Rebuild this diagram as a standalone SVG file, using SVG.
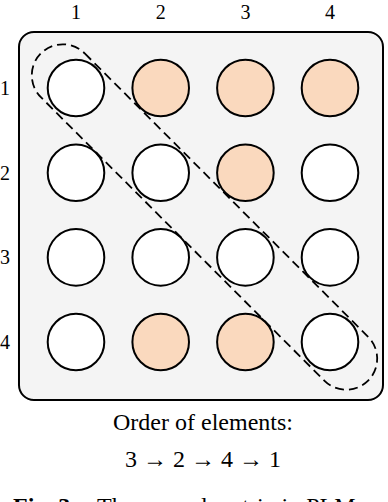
<svg xmlns="http://www.w3.org/2000/svg" width="388" height="502" viewBox="0 0 388 502">
<style>
.lbl{font-family:"Liberation Serif","Times New Roman",serif;font-size:20px;fill:#000;text-anchor:middle}
.cap{font-family:"Liberation Serif","Times New Roman",serif;font-size:24px;fill:#000;text-anchor:middle}
.w{fill:#fff;stroke:#000;stroke-width:2}
.o{fill:#fad9be;stroke:#000;stroke-width:2}
</style>
<rect x="0" y="0" width="388" height="502" fill="#fff"/>
<g id="panel">
<rect x="19" y="32" width="364" height="368" rx="15" ry="15" fill="#f4f4f4" stroke="#000" stroke-width="2"/>
</g>
<g id="col-labels">
<text class="lbl" x="76" y="19">1</text>
<text class="lbl" x="160.7" y="19">2</text>
<text class="lbl" x="245.4" y="19">3</text>
<text class="lbl" x="330" y="19">4</text>
</g>
<g id="row-labels">
<text class="lbl" x="5" y="95">1</text>
<text class="lbl" x="5" y="179.7">2</text>
<text class="lbl" x="5" y="264.4">3</text>
<text class="lbl" x="5" y="349">4</text>
</g>
<g id="cells">
<circle id="c11" class="w" cx="76" cy="88" r="28.3"/>
<circle id="c12" class="o" cx="160.7" cy="88" r="28.3"/>
<circle id="c13" class="o" cx="245.4" cy="88" r="28.3"/>
<circle id="c14" class="o" cx="330" cy="88" r="28.3"/>
<circle id="c21" class="w" cx="76" cy="172.7" r="28.3"/>
<circle id="c22" class="w" cx="160.7" cy="172.7" r="28.3"/>
<circle id="c23" class="o" cx="245.4" cy="172.7" r="28.3"/>
<circle id="c24" class="w" cx="330" cy="172.7" r="28.3"/>
<circle id="c31" class="w" cx="76" cy="257.4" r="28.3"/>
<circle id="c32" class="w" cx="160.7" cy="257.4" r="28.3"/>
<circle id="c33" class="w" cx="245.4" cy="257.4" r="28.3"/>
<circle id="c34" class="w" cx="330" cy="257.4" r="28.3"/>
<circle id="c41" class="w" cx="76" cy="342" r="28.3"/>
<circle id="c42" class="o" cx="160.7" cy="342" r="28.3"/>
<circle id="c43" class="o" cx="245.4" cy="342" r="28.3"/>
<circle id="c44" class="w" cx="330" cy="342" r="28.3"/>
</g>
<g id="diagonal">
<rect x="-26.9" y="186" width="462.8" height="62" rx="31" ry="31" fill="none" stroke="#000" stroke-width="1.8" stroke-dasharray="9,5" transform="rotate(45 204.5 217)"/>
</g>
<g id="caption">
<text class="cap" x="203" y="430">Order of elements:</text>
<text class="cap" x="203" y="467">3 → 2 → 4 → 1</text>
<text font-family="'Liberation Serif','Times New Roman',serif" font-size="24" x="13" y="514"><tspan font-weight="bold">Fig. 3:</tspan><tspan x="97">The reward matrix in PLM</tspan></text>
</g>
</svg>
